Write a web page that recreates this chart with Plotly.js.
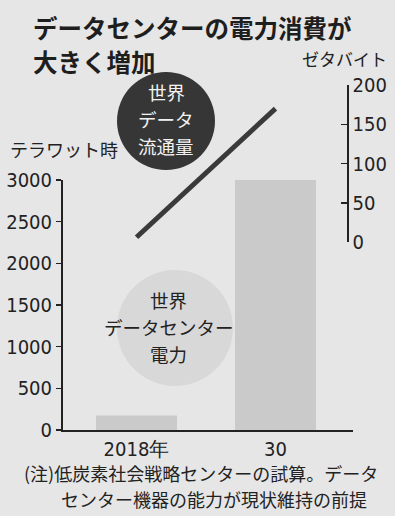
<!DOCTYPE html>
<html>
<head>
<meta charset="utf-8">
<script src="https://cdn.plot.ly/plotly-3.0.1.min.js"></script>
<style>html,body{margin:0;padding:0;background:#fff;}#chart{width:419px;height:516px;}</style>
</head>
<body>
<div id="chart"></div>
<script>
// ---- data ----
const years = ['2018年', '30'];
const powerTWh = [175, 3000];          // 世界データセンター電力 (テラワット時)
const dataZB = [6, 170];               // 世界データ流通量 (ゼタバイト)
const leftTicks = [0, 500, 1000, 1500, 2000, 2500, 3000];
const rightTicks = [0, 50, 100, 150, 200];

// ---- pixel helpers (plot area: x 63..353, y 60..430) ----
const L = 63, R = 353, T = 60, B = 430;
const px = v => (v - L) / (R - L);
const py = v => (B - v) / (B - T);

const NUM = '"Liberation Sans Narrow", "DejaVu Sans Condensed", Arial, sans-serif';
const JP = '"Noto Sans CJK JP", "Noto Sans", sans-serif';

const traces = [
  {
    type: 'bar', x: years, y: powerTWh, xaxis: 'x', yaxis: 'y',
    width: 0.583, marker: {color: '#cacaca', line: {width: 0}},
    hoverinfo: 'none', cliponaxis: false
  },
  {
    type: 'scatter', mode: 'lines', x: years, y: dataZB, xaxis: 'x', yaxis: 'y2',
    line: {color: '#3a3a3a', width: 5}, hoverinfo: 'none', cliponaxis: false
  }
];

function circle(cx, cy, r, color) {
  return {type: 'circle', xref: 'paper', yref: 'paper', layer: 'below',
    x0: px(cx - r), x1: px(cx + r), y0: py(cy + r), y1: py(cy - r),
    fillcolor: color, line: {width: 0}};
}
function text(t, x, y, size, color, anchor, weight) {
  return {text: t, xref: 'paper', yref: 'paper', x: px(x), y: py(y),
    xanchor: anchor || 'center', yanchor: 'middle', showarrow: false, align: anchor || 'center',
    font: {family: JP, size: size, color: color || '#222', weight: weight || 400}};
}

const layout = {
  width: 419, height: 516,
  margin: {l: L, r: 419 - R, t: T, b: 516 - B, pad: 0},
  paper_bgcolor: '#ffffff', plot_bgcolor: 'rgba(0,0,0,0)',
  showlegend: false,
  xaxis: {
    type: 'category', range: [-0.529, 1.558], showline: true, linecolor: '#222', linewidth: 2,
    ticks: '', showgrid: false, zeroline: false, fixedrange: true,
    tickfont: {family: NUM, size: 20, color: '#222'}
  },
  yaxis: {
    domain: [0, py(180)], range: [0, 3000], tickvals: leftTicks,
    showline: true, linecolor: '#222', linewidth: 2, ticks: 'outside', ticklen: 5, tickwidth: 1.5,
    tickcolor: '#222', showgrid: false, zeroline: false, fixedrange: true,
    tickfont: {family: NUM, size: 20, color: '#222'}
  },
  yaxis2: {
    domain: [py(242), py(85)], range: [0, 200], tickvals: rightTicks,
    anchor: 'free', position: px(347), side: 'right',
    showline: true, linecolor: '#222', linewidth: 1.5, ticks: 'inside', ticklen: 6, tickwidth: 1.5,
    tickcolor: '#222', showgrid: false, zeroline: false, fixedrange: true,
    tickfont: {family: NUM, size: 20, color: '#222'}
  },
  shapes: [
    {type: 'rect', xref: 'paper', yref: 'paper', layer: 'below',
      x0: px(0), x1: px(395), y0: py(516), y1: py(0), fillcolor: '#e6e6e6', line: {width: 0}},
    circle(175, 328, 58, '#d8d8d8'),
    circle(166, 121, 49, '#363636')
  ],
  annotations: [
    text('データセンターの電力消費が', 31, 27, 24.5, '#1e1e1e', 'left', 700),
    text('大きく増加', 31, 62, 24.5, '#1e1e1e', 'left', 700),
    text('テラワット時', 8, 149, 18, '#222', 'left'),
    text('ゼタバイト', 300, 58, 17, '#222', 'left'),
    text('世界', 166, 92, 18.5, '#f2f2f2'),
    text('データ', 166, 119, 18.5, '#f2f2f2'),
    text('流通量', 166, 146, 18.5, '#f2f2f2'),
    text('世界', 168, 300, 18.5, '#222'),
    text('データセンター', 169, 327, 18.5, '#222'),
    text('電力', 168, 354, 18.5, '#222'),
    text('(注)低炭素社会戦略センターの試算。データ', 22, 473, 18, '#222', 'left'),
    text('センター機器の能力が現状維持の前提', 59, 499, 18, '#222', 'left')
  ]
};

Plotly.newPlot('chart', traces, layout, {staticPlot: true, displayModeBar: false});
</script>
</body>
</html>
